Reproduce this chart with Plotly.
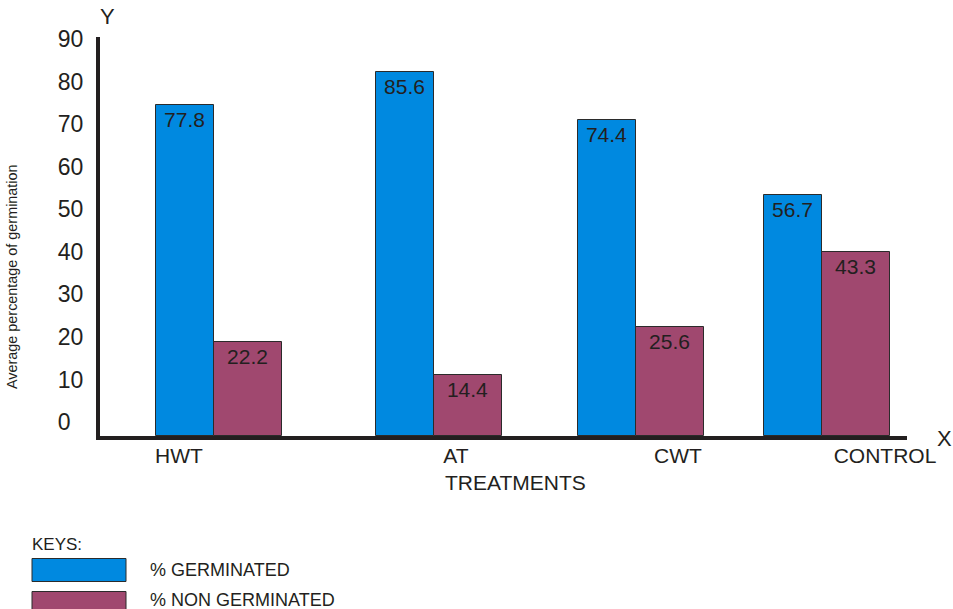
import plotly.graph_objects as go

# ---- data -------------------------------------------------------------
treatments = ["HWT", "AT", "CWT", "CONTROL"]
germinated = [77.8, 85.6, 74.4, 56.7]          # % germinated
non_germinated = [22.2, 14.4, 25.6, 43.3]      # % non germinated
y_tick_values = [0, 10, 20, 30, 40, 50, 60, 70, 80, 90]

# ---- layout constants ---------------------------------------------------
# x axis runs in pixel-like units (0 .. 807) so groups can sit at uneven slots
slot_left = [56, 276, 478, 664]       # left edge of each treatment group
label_pos = [79, 356, 578, 785]       # where each treatment name is printed
W_GERM = 57.5
W_NON = 68

BLUE = "#0089E0"
PURPLE = "#A0486F"
INK = "#231F20"
FONT = "Liberation Sans, Arial, sans-serif"

W, H = 953, 609
ML, MR, MT, MB = 100, 46, 37, 173

fig = go.Figure()

fig.add_trace(go.Bar(
    name="% GERMINATED",
    x=slot_left,
    y=germinated,
    width=W_GERM,
    offset=0,
    marker=dict(color=BLUE, line=dict(color="#2B2B2B", width=1)),
    text=[f"{v:.1f}" for v in germinated],
    textposition="inside",
    insidetextanchor="end",
    textangle=0,
    textfont=dict(family=FONT, size=21, color=INK),
    constraintext="none",
    showlegend=False,
))

fig.add_trace(go.Bar(
    name="% NON GERMINATED",
    x=[s + W_GERM for s in slot_left],
    y=non_germinated,
    width=W_NON,
    offset=0,
    marker=dict(color=PURPLE, line=dict(color="#2B2B2B", width=1)),
    text=[f"{v:.1f}" for v in non_germinated],
    textposition="inside",
    insidetextanchor="end",
    textangle=0,
    textfont=dict(family=FONT, size=21, color=INK),
    constraintext="none",
    showlegend=False,
))

tick_text = [str(v) if v else "0\u2007" for v in y_tick_values]

fig.update_layout(
    width=W, height=H,
    margin=dict(l=ML, r=MR, t=MT, b=MB, pad=0),
    paper_bgcolor="white",
    plot_bgcolor="white",
    font=dict(family=FONT, color=INK),
    bargap=0,
    xaxis=dict(
        range=[0, W - ML - MR],
        showgrid=False, zeroline=False,
        showline=True, linecolor=INK, linewidth=4,
        tickmode="array", tickvals=label_pos, ticktext=treatments,
        ticks="", tickfont=dict(family=FONT, size=21, color=INK),
        ticklabelstandoff=-2,
        fixedrange=True,
    ),
    yaxis=dict(
        range=[0, 93.8],
        showgrid=False, zeroline=False,
        showline=True, linecolor=INK, linewidth=4,
        tickmode="array", tickvals=y_tick_values, ticktext=tick_text,
        ticks="", tickfont=dict(family=FONT, size=23, color=INK),
        ticklabelshift=-14, ticklabelstandoff=8,
        fixedrange=True,
    ),
)

# axis letters, axis titles
fig.add_annotation(text="Y", xref="paper", yref="paper", x=0, y=1,
                   xshift=7, yshift=21, showarrow=False,
                   font=dict(family=FONT, size=22, color=INK),
                   xanchor="center", yanchor="middle")
fig.add_annotation(text="X", xref="paper", yref="paper", x=1, y=0,
                   xshift=37, yshift=-2, showarrow=False,
                   font=dict(family=FONT, size=22, color=INK),
                   xanchor="center", yanchor="middle")
fig.add_annotation(text="TREATMENTS", xref="paper", yref="paper", x=0, y=0,
                   xshift=415, yshift=-46, showarrow=False,
                   font=dict(family=FONT, size=21, color=INK),
                   xanchor="center", yanchor="middle")
fig.add_annotation(text="Average percentage of germination", xref="paper", yref="paper",
                   x=0, y=0, xshift=-88, yshift=159, textangle=-90, showarrow=False,
                   font=dict(family=FONT, size=14.4, color=INK),
                   xanchor="center", yanchor="middle")

# key block below the chart
fig.add_annotation(text="KEYS:", xref="paper", yref="paper", x=0, y=0,
                   xshift=-70, yshift=-108, showarrow=False,
                   font=dict(family=FONT, size=17, color=INK),
                   xanchor="left", yanchor="middle")
key_rows = [(BLUE, "% GERMINATED", -134, -134), (PURPLE, "% NON GERMINATED", -167, -164)]
for color, label, box_y, text_y in key_rows:
    fig.add_shape(type="rect", xref="paper", yref="paper",
                  xsizemode="pixel", ysizemode="pixel", xanchor=0, yanchor=0,
                  x0=-68, x1=26, y0=box_y - 11.5, y1=box_y + 11.5,
                  fillcolor=color, line=dict(color="#2B2B2B", width=1))
    fig.add_annotation(text=label, xref="paper", yref="paper", x=0, y=0,
                       xshift=48, yshift=text_y, showarrow=False,
                       font=dict(family=FONT, size=18, color=INK),
                       xanchor="left", yanchor="middle")

fig.write_html("out.html")
